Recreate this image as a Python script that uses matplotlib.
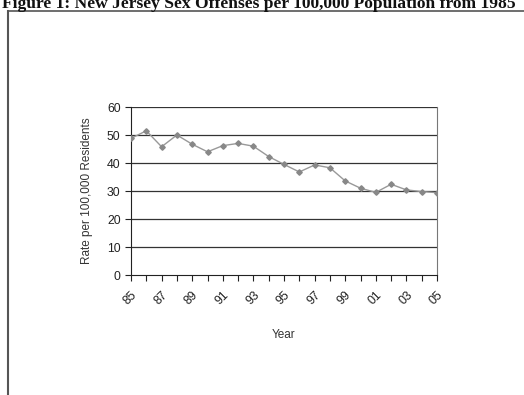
import matplotlib.pyplot as plt
from matplotlib.lines import Line2D

# tasa anual de delitos sexuales por 100.000 habitantes, 1985-2005
anios = list(range(1985, 2006))
tasa = [48.8, 51.5, 45.8, 50.0, 46.7, 44.0, 46.2, 47.0, 46.0, 42.3, 39.5,
        36.8, 39.3, 38.3, 33.6, 31.0, 29.5, 32.4, 30.4, 29.8, 29.4]
etiquetas_x = ['85', '87', '89', '91', '93', '95', '97', '99', '01', '03', '05']
marcas_y = [0, 10, 20, 30, 40, 50, 60]

plt.rcParams['font.family'] = ['Liberation Sans', 'DejaVu Sans']

fig = plt.figure(figsize=(5.24, 3.95), dpi=100)
ax = fig.add_axes([131 / 524, 1 - 275 / 395, 306 / 524, 168 / 395])

# marco del documento
fig.add_artist(Line2D([8 / 524, 8 / 524], [0, 1 - 11 / 395],
                      transform=fig.transFigure, color='#555555', lw=1.5))
fig.add_artist(Line2D([8 / 524, 1], [1 - 11 / 395, 1 - 11 / 395],
                      transform=fig.transFigure, color='#555555', lw=1.2))

fig.text(0.004, 1 - 8 / 395,
         'Figure 1: New Jersey Sex Offenses per 100,000 Population from 1985',
         family='Liberation Serif', weight='bold', fontsize=12.6,
         ha='left', va='baseline', color='#111111')

for y in marcas_y[1:]:
    ax.axhline(y, color='#333333', lw=0.9, zorder=1)

ax.plot(anios, tasa, color='#999999', lw=1.0, marker='D', markersize=2.8,
        markerfacecolor='#888888', markeredgecolor='#888888', zorder=3)

ax.set_xlim(1985, 2005)
ax.set_ylim(0, 60)
ax.set_yticks(marcas_y)
ax.set_xticks(anios[::2])
ax.set_xticklabels(etiquetas_x, rotation=45, ha='right',
                   rotation_mode='anchor')
ax.set_xticks(anios, minor=True)
ax.tick_params(axis='both', which='both', direction='out', length=4,
               width=0.8, labelsize=8.8, colors='#222222')
ax.tick_params(axis='x', pad=6)

ax.spines['top'].set_visible(False)
ax.spines['right'].set_color('#777777')
ax.spines['left'].set_color('#222222')
ax.spines['bottom'].set_color('#222222')

ax.set_ylabel('Rate per 100,000 Residents', fontsize=8.5, color='#333333',
              labelpad=10)
ax.set_xlabel('Year', fontsize=8.5, color='#333333', labelpad=16)

fig.savefig('out.png', dpi=100)
